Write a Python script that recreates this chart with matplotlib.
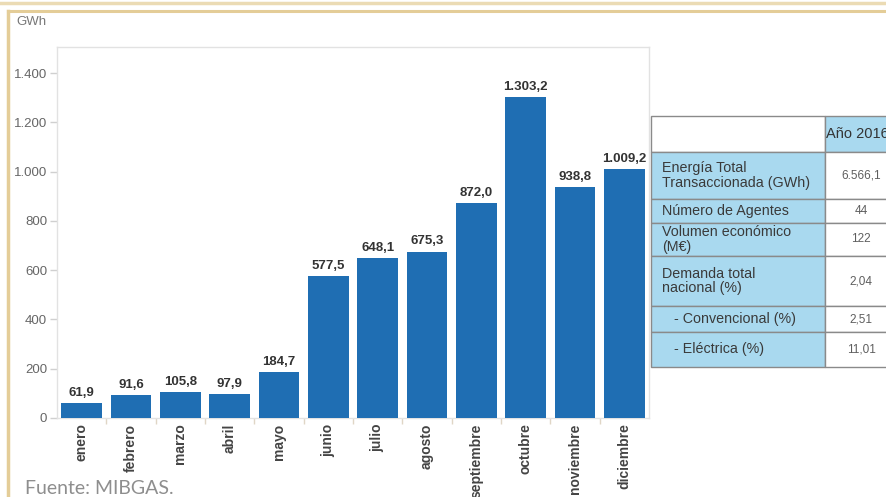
import matplotlib
matplotlib.use("Agg")
import matplotlib.pyplot as plt
from matplotlib.patches import Rectangle
from matplotlib.lines import Line2D
from matplotlib.ticker import FuncFormatter, FixedLocator

# ---- data ----
months = ["enero", "febrero", "marzo", "abril", "mayo", "junio", "julio",
          "agosto", "septiembre", "octubre", "noviembre", "diciembre"]
values = [61.9, 91.6, 105.8, 97.9, 184.7, 577.5, 648.1, 675.3, 872.0,
          1303.2, 938.8, 1009.2]
yticks = [0, 200, 400, 600, 800, 1000, 1200, 1400]

table_header = "Año 2016"
table_labels = ["Energía Total\nTransaccionada (GWh)", "Número de Agentes",
                "Volumen económico\n(M€)", "Demanda total\nnacional (%)",
                "   - Convencional (%)", "   - Eléctrica (%)"]
table_values = ["6.566,1", "44", "122", "2,04", "2,51", "11,01"]

FONT = ["Liberation Sans", "DejaVu Sans"]
plt.rcParams['font.family'] = FONT

W, H = 887, 497
fig = plt.figure(figsize=(W / 100, H / 100), dpi=100)

def fx(x):
    return x / W

def fy(y):
    return 1 - y / H

def es_num(v, dec=1):
    s = f"{v:,.{dec}f}"
    return s.replace(",", "X").replace(".", ",").replace("X", ".")

# ---- frame decoration (tan lines) ----
tan = "#E4CD98"
fig.add_artist(Line2D([0, 1], [fy(2.5), fy(2.5)], color="#EBDBB4", lw=2.5, transform=fig.transFigure))
fig.add_artist(Line2D([fx(8), 1], [fy(11), fy(11)], color=tan, lw=2.2, transform=fig.transFigure))
fig.add_artist(Line2D([fx(8.5), fx(8.5)], [fy(11), 0], color=tan, lw=2.5, transform=fig.transFigure))

# ---- axes ----
ax = fig.add_axes([fx(57), fy(418), fx(649) - fx(57), fy(47) - fy(418)])
x = list(range(len(months)))
bars = ax.bar(x, values, width=0.83, color="#1F6EB3", edgecolor="none", zorder=3)
ax.set_xlim(-0.5, len(months) - 0.5)
ax.set_ylim(0, 1506)

for xi, v in zip(x, values):
    ax.annotate(es_num(v), (xi, v), xytext=(0, 3), textcoords="offset points",
                ha="center", va="bottom", fontsize=9.5, fontweight="bold",
                color="#333333")

for s in ax.spines.values():
    s.set_color("#E2E2E2")
    s.set_linewidth(1.0)

ax.yaxis.set_major_locator(FixedLocator(yticks))
ax.yaxis.set_major_formatter(FuncFormatter(lambda v, p: es_num(v, 0)))
ax.tick_params(axis="y", colors="#D0D0D0", labelcolor="#666666", labelsize=9.5,
               length=5, width=1, pad=2)
ax.set_xticks(x)
ax.set_xticklabels(months, rotation=90, fontsize=10, fontweight="bold",
                   color="#444444")
ax.set_xticks([i + 0.5 for i in x[:-1]], minor=True)
ax.tick_params(axis="x", which="major", length=0, pad=4)
ax.tick_params(axis="x", which="minor", length=4, color="#E0D6C6", width=1)

fig.text(fx(16), fy(22), "GWh", fontsize=9.5, color="#777777", va="center", ha="left")
fig.text(fx(25), fy(488), "Fuente: MIBGAS.", fontsize=14, color="#8E8E8E",
         va="center", ha="left", family=["Lato", "DejaVu Sans"])

# ---- table ----
blue = "#A9D9EF"
border = "#8A8A8A"
x0, x1, x2 = 651, 825, 905
rows_y = [116, 152, 199, 223, 256, 306, 332, 367]

def cell(xa, xb, ya, yb, fc):
    fig.add_artist(Rectangle((fx(xa), fy(yb)), fx(xb) - fx(xa), fy(ya) - fy(yb),
                             transform=fig.transFigure, facecolor=fc,
                             edgecolor=border, lw=1.0))

cell(x0, x1, rows_y[0], rows_y[1], "white")
cell(x1, x2, rows_y[0], rows_y[1], blue)
fig.text(fx(x1 + 1), fy((rows_y[0] + rows_y[1]) / 2), table_header,
         fontsize=10.5, color="#333333", va="center", ha="left")

for i, (lab, val) in enumerate(zip(table_labels, table_values)):
    ya, yb = rows_y[i + 1], rows_y[i + 2]
    cell(x0, x1, ya, yb, blue)
    cell(x1, x2, ya, yb, "white")
    ym = fy((ya + yb) / 2)
    fig.text(fx(x0 + 11), ym, lab, fontsize=10.3, color="#3A3A3A",
             va="center", ha="left", linespacing=1.05)
    fig.text(fx(861), ym, val, fontsize=8.5, color="#5E5E5E",
             va="center", ha="center")

fig.savefig("out.png", dpi=100)
